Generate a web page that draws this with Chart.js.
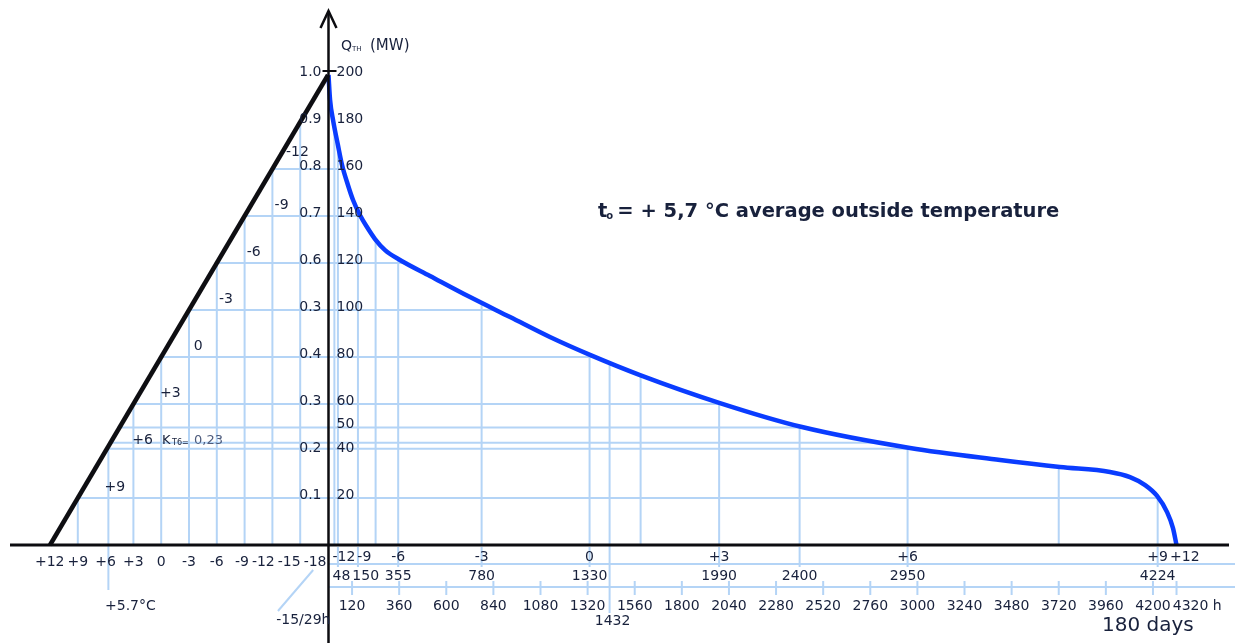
<!DOCTYPE html>
<html>
<head>
<meta charset="utf-8">
<script src="https://cdn.jsdelivr.net/npm/chart.js@4.4.0/dist/chart.umd.min.js"></script>
<style>
  html, body { margin: 0; padding: 0; background: #fff; }
  #wrap { position: relative; width: 1235px; height: 643px; }
</style>
</head>
<body>
<div id="wrap"><canvas id="myChart"></canvas></div>
<script>
// heat load duration curve
const triTemps = [12, -18]
const triLoad = [0, 200]

const hours = [0, 8, 23, 48, 69, 99, 125, 160, 196, 237, 288, 364, 517, 721, 925, 1128, 1332, 1587, 1994, 2412, 2962, 3421, 3726, 3981, 4083, 4160, 4221, 4272, 4302, 4320]
const loadMW = [200, 189.4, 180.9, 170.2, 161.7, 153.2, 146.8, 140.4, 135.3, 130.2, 125.5, 121.3, 114.5, 105.5, 97, 88.5, 80.9, 72.3, 60.4, 50.2, 41.3, 36.2, 33.2, 31.1, 28.9, 25.5, 20.9, 14, 7.2, 0]

const tempTickLabels = ['+12', '+9', '+6', '+3', '0', '-3', '-6', '-9', '-12', '-15', '-18']
const tempTickValues = [12, 9, 6, 3, 0, -3, -6, -9, -12, -15, -18]

const lineTempLabels = ['-12', '-9', '-6', '-3', '0', '+3', '+6', '+9']
const lineTempValues = [-12, -9, -6, -3, 0, 3, 6, 9]

const loadTickValues = [200, 180, 160, 140, 120, 100, 80, 60, 50, 40, 20]
const ratioTickLabels = ['1.0', '0.9', '0.8', '0.7', '0.6', '0.3', '0.4', '0.3', '0.2', '0.1']
const ratioTickValues = [200, 180, 160, 140, 120, 100, 80, 60, 40, 20]

const hourTempLabels = ['-12', '-9', '-6', '-3', '0', '+3', '+6', '+9', '+12']
const hourTempValues = [48, 150, 355, 780, 1330, 1990, 2950, 4224, 4320]
const hourMarkLabels = ['48', '150', '355', '780', '1330', '1990', '2400', '2950', '4224']
const hourMarkValues = [48, 150, 355, 780, 1330, 1990, 2400, 2950, 4224]
const hourTickLabels = ['120', '360', '600', '840', '1080', '1320', '1560', '1800', '2040', '2280', '2520', '2760', '3000', '3240', '3480', '3720', '3960', '4200', '4320 h']
const hourTickValues = [120, 360, 600, 840, 1080, 1320, 1560, 1800, 2040, 2280, 2520, 2760, 3000, 3240, 3480, 3720, 3960, 4200, 4320]

const gridLoads = [20, 41, 43.5, 50, 60, 80, 100, 120, 140, 160]
const gridTemps = [9, 5.7, 3, 0, -3, -6, -9, -12, -15]
const gridHours = [30, 48, 150, 240, 355, 780, 1330, 1432, 1590, 1990, 2400, 2950, 3720, 4224]

const avgTemp = 5.7
const kt6 = '0,23'
const coldHour = 1432

const GRID = '#b4d4f6'
const TEXT = '#18213c'
const FONT = '"DejaVu Sans", sans-serif'

let gridPattern = null

function seg(g, x1, y1, x2, y2) {
    g.beginPath()
    g.moveTo(x1, y1)
    g.lineTo(x2, y2)
    g.stroke()
}

// grid is painted into a pattern, then used as fill under the two lines
const gridPlugin = {
    id: 'gridPattern',
    afterLayout(chart) {
        const c = document.createElement('canvas')
        c.width = chart.width
        c.height = chart.height
        const g = c.getContext('2d')
        const { xT, xH, y } = chart.scales
        g.strokeStyle = GRID
        g.lineWidth = 2
        gridLoads.forEach(v => {
            const py = y.getPixelForValue(v)
            seg(g, 0, py, c.width, py)
        })
        gridTemps.forEach(t => {
            const px = xT.getPixelForValue(t)
            seg(g, px, 0, px, c.height)
        })
        gridHours.forEach(h => {
            const px = xH.getPixelForValue(h)
            seg(g, px, 0, px, c.height)
        })
        gridPattern = chart.ctx.createPattern(c, 'no-repeat')
    }
}

function rowRight(ctx, labels, xs, yy, limit) {
    // right to left, squeeze labels so they don't overlap
    for (let i = labels.length - 1; i >= 0; i--) {
        const w = ctx.measureText(labels[i]).width
        const cx = Math.min(xs[i], limit - w / 2)
        ctx.fillText(labels[i], cx, yy)
        limit = cx - w / 2 - 3
    }
}

function rowLeft(ctx, labels, xs, yy, limit) {
    for (let i = 0; i < labels.length; i++) {
        const w = ctx.measureText(labels[i]).width
        const cx = Math.max(xs[i], limit + w / 2)
        ctx.fillText(labels[i], cx, yy)
        limit = cx + w / 2 + 2
    }
}

const drawPlugin = {
    id: 'drawing',
    afterDraw(chart) {
        const ctx = chart.ctx
        const { xT, xH, y } = chart.scales
        const axisX = xH.getPixelForValue(0)
        const baseY = y.getPixelForValue(0)
        const W = chart.width
        ctx.save()

        // light guides below the axis
        ctx.strokeStyle = GRID
        ctx.lineWidth = 2
        seg(ctx, axisX, baseY + 19, W, baseY + 19)
        seg(ctx, axisX, baseY + 42, W, baseY + 42)
        const px57 = xT.getPixelForValue(avgTemp)
        seg(ctx, px57, baseY, px57, baseY + 45)
        const px1432 = xH.getPixelForValue(coldHour)
        seg(ctx, px1432, baseY, px1432, baseY + 68)
        hourTickValues.forEach(h => {
            const px = xH.getPixelForValue(h)
            seg(ctx, px, baseY + 36, px, baseY + 50)
        })
        hourMarkValues.forEach(h => {
            const px = xH.getPixelForValue(h)
            seg(ctx, px, baseY + 2, px, baseY + 22)
        })
        seg(ctx, xT.getPixelForValue(-16.4), baseY + 25, xT.getPixelForValue(-12.6), baseY + 66)

        // axes
        ctx.strokeStyle = '#0c0c10'
        ctx.lineWidth = 3
        seg(ctx, 10, baseY, 1229, baseY)
        ctx.lineWidth = 2.5
        seg(ctx, axisX, 11, axisX, chart.height)
        ctx.beginPath()
        ctx.moveTo(axisX - 8, 28)
        ctx.lineTo(axisX, 11)
        ctx.lineTo(axisX + 8, 28)
        ctx.stroke()
        const y200 = y.getPixelForValue(200) - 4
        ctx.lineWidth = 2
        seg(ctx, axisX - 6, y200, axisX + 8, y200)

        // axis title
        ctx.fillStyle = TEXT
        ctx.textBaseline = 'alphabetic'
        ctx.textAlign = 'left'
        ctx.font = '14px ' + FONT
        ctx.fillText('Q', 341, 50)
        ctx.font = '7px ' + FONT
        ctx.fillText('TH', 352, 51)
        ctx.font = '15px ' + FONT
        ctx.fillText('(MW)', 370, 50)

        // y tick labels
        ctx.font = '14px ' + FONT
        ctx.textBaseline = 'middle'
        ctx.textAlign = 'right'
        ratioTickLabels.forEach((t, i) => {
            ctx.fillText(t, axisX - 7, y.getPixelForValue(ratioTickValues[i]) - 3)
        })
        ctx.textAlign = 'left'
        loadTickValues.forEach(v => {
            ctx.fillText(String(v), axisX + 8, y.getPixelForValue(v) - 3)
        })

        // temperatures along the black line
        ctx.textAlign = 'center'
        lineTempLabels.forEach((t, i) => {
            const tv = lineTempValues[i]
            const load = triLoad[0] + (tv - triTemps[0]) / (triTemps[1] - triTemps[0]) * (triLoad[1] - triLoad[0])
            let dx = 37, dy = -11
            if (tv === -12) { dx = 25; dy = -17 }
            ctx.fillText(t, xT.getPixelForValue(tv) + dx, y.getPixelForValue(load) + dy)
        })

        // bottom rows
        ctx.font = '14px ' + FONT
        rowRight(ctx, tempTickLabels, tempTickValues.map(v => xT.getPixelForValue(v)), baseY + 17, axisX - 2)
        rowLeft(ctx, hourTempLabels, hourTempValues.map(v => xH.getPixelForValue(v)), baseY + 12, axisX + 4)
        rowLeft(ctx, hourMarkLabels, hourMarkValues.map(v => xH.getPixelForValue(v)), baseY + 31, axisX + 4)
        rowLeft(ctx, hourTickLabels, hourTickValues.map(v => xH.getPixelForValue(v)), baseY + 61, axisX + 4)
        ctx.fillText(String(coldHour), px1432 + 3, baseY + 76)
        ctx.fillText('+5.7°C', px57 + 22, baseY + 61)
        ctx.textAlign = 'right'
        ctx.fillText('-15/29h', axisX + 2, baseY + 75)

        ctx.textAlign = 'left'
        ctx.font = '20px ' + FONT
        ctx.fillText('180 days', 1102, baseY + 81)

        // K_T6 note
        const kY = y.getPixelForValue(46) + 4
        ctx.font = '13px ' + FONT
        ctx.fillText('K', 162, kY)
        ctx.font = '8px ' + FONT
        ctx.fillText('T6=', 172, kY + 2)
        ctx.fillStyle = '#4d5b7c'
        ctx.font = '13px ' + FONT
        ctx.fillText(kt6, 194, kY)

        // average temperature note
        ctx.fillStyle = TEXT
        ctx.textBaseline = 'alphabetic'
        ctx.font = 'bold 19.5px ' + FONT
        ctx.fillText('t', 598, 217)
        const tw = ctx.measureText('t').width
        ctx.font = 'bold 10px ' + FONT
        ctx.fillText('o', 598 + tw - 1, 219)
        ctx.font = 'bold 19.5px ' + FONT
        ctx.fillText('= + 5,7 °C average outside temperature', 598 + tw + 10, 217)

        ctx.restore()
    }
}

const ctxEl = document.getElementById('myChart')
const myChart = new Chart(ctxEl, {
    type: 'line',
    data: {
        datasets: [
            {
                label: 'design',
                data: triTemps.map((t, i) => ({ x: t, y: triLoad[i] })),
                xAxisID: 'xT',
                yAxisID: 'y',
                borderColor: '#0e0e12',
                borderWidth: 4.5,
                pointRadius: 0,
                fill: 'origin',
                backgroundColor: () => gridPattern || 'rgba(0,0,0,0)',
                clip: false
            },
            {
                label: 'load',
                data: hours.map((h, i) => ({ x: h, y: loadMW[i] })),
                xAxisID: 'xH',
                yAxisID: 'y',
                borderColor: '#0a3cff',
                borderWidth: 4.5,
                pointRadius: 0,
                fill: 'origin',
                backgroundColor: () => gridPattern || 'rgba(0,0,0,0)',
                cubicInterpolationMode: 'monotone',
                clip: false
            }
        ]
    },
    options: {
        responsive: true,
        maintainAspectRatio: false,
        animation: false,
        layout: { padding: { left: 10, right: 10, top: 10, bottom: 98 } },
        plugins: { legend: { display: false }, tooltip: { enabled: false } },
        scales: {
            xT: { type: 'linear', display: false, reverse: true, min: -114.8, max: 16.317 },
            xH: { type: 'linear', display: false, min: -1622.5, max: 4567 },
            y: { type: 'linear', display: false, min: 0, max: 227.66 }
        }
    },
    plugins: [gridPlugin, drawPlugin]
})
</script>
</body>
</html>
